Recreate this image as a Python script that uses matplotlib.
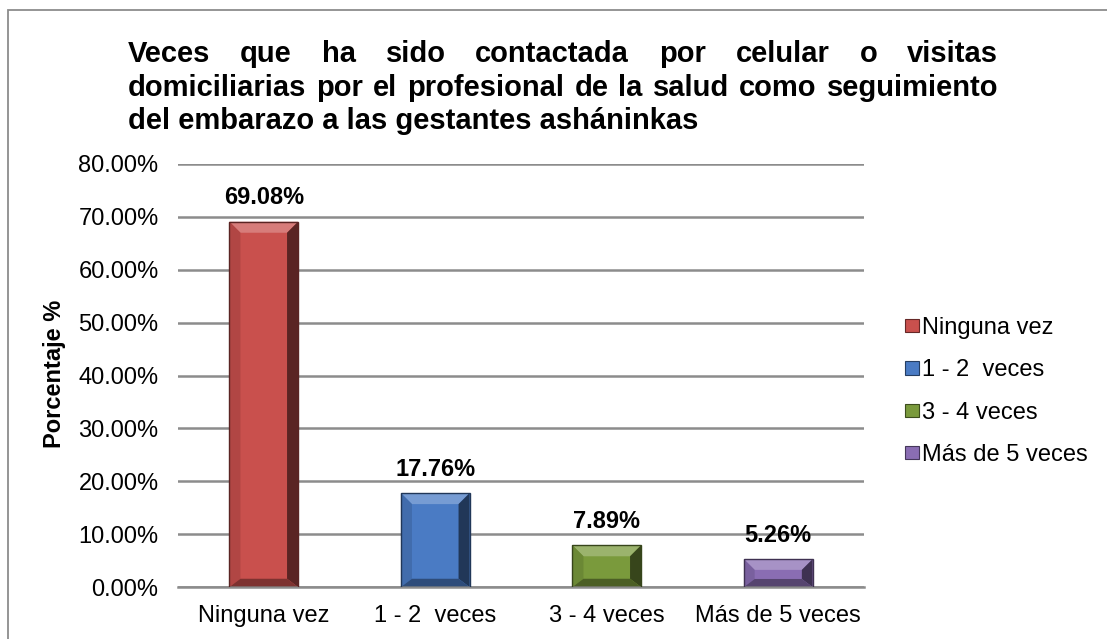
import matplotlib
matplotlib.use("Agg")
import matplotlib.pyplot as plt
from matplotlib.patches import Polygon, Rectangle
import matplotlib.colors as mcolors
import numpy as np

plt.rcParams['font.family'] = ['Liberation Sans', 'DejaVu Sans']

categories = ["Ninguna vez", "1 - 2  veces", "3 - 4 veces", "Más de 5 veces"]
values = [69.08, 17.76, 7.89, 5.26]
colors = ["#C9504D", "#4A7BC4", "#7A9A3C", "#8A6DB3"]
yticks = [0, 10, 20, 30, 40, 50, 60, 70, 80]
title_lines = [
    "Veces que ha sido contactada por celular o visitas",
    "domiciliarias por el profesional de la salud como seguimiento",
    "del embarazo a las gestantes asháninkas",
]
ylabel = "Porcentaje %"

W, H = 1107, 639
fig = plt.figure(figsize=(W / 100, H / 100), dpi=100)
fig.patch.set_facecolor("white")

# outer chart frame (top and left edges visible)
fig.add_artist(Rectangle((8 / W, -0.1), 1.2, 1 - 10 / H + 0.1, transform=fig.transFigure,
                         fill=False, edgecolor="#8C8C8C", linewidth=1.3))

ax = fig.add_axes([178 / W, 1 - 587 / H, 686 / W, 423 / H])
x = np.arange(len(categories))
bars = ax.bar(x, values, width=0.40, color=colors, zorder=3, linewidth=0)
ax.set_xlim(-0.5, len(categories) - 0.5)
ax.set_ylim(0, 80)
ax.set_yticks(yticks)
ax.set_yticklabels([f"{t:.2f}%" for t in yticks], fontsize=17)
ax.set_xticks(x)
ax.set_xticklabels(categories, fontsize=17)
ax.tick_params(axis="both", length=0)
ax.tick_params(axis="y", pad=14)
ax.tick_params(axis="x", pad=13)
for s in ["left", "right", "top"]:
    ax.spines[s].set_visible(False)
ax.spines["bottom"].set_color("#8C8C8C")
ax.spines["bottom"].set_linewidth(1.8)
ax.spines["bottom"].set_zorder(4)
ax.yaxis.grid(True, color="#8C8C8C", linewidth=1.8, zorder=0)
ax.set_axisbelow(True)


def blend(c, other, t):
    a = np.array(mcolors.to_rgb(c))
    b = np.array(mcolors.to_rgb(other))
    return tuple(a * (1 - t) + b * t)


# bevel effect on each bar
inv = ax.transData.inverted()
for rect, c in zip(bars.patches, colors):
    x0, y0 = rect.get_x(), rect.get_y()
    x1, y1 = x0 + rect.get_width(), y0 + rect.get_height()
    (px0, py0) = ax.transData.transform((x0, y0))
    (px1, py1) = ax.transData.transform((x1, y1))
    b = min(11, (py1 - py0) / 2.6)
    outer = [(px0, py0), (px1, py0), (px1, py1), (px0, py1)]
    inner = [(px0 + b, py0 + b * 0.75), (px1 - b, py0 + b * 0.75), (px1 - b, py1 - b), (px0 + b, py1 - b)]
    faces = {
        "top": ([outer[3], outer[2], inner[2], inner[3]], blend(c, "white", 0.25)),
        "left": ([outer[0], outer[3], inner[3], inner[0]], blend(c, "black", 0.12)),
        "right": ([outer[1], outer[2], inner[2], inner[1]], blend(c, "black", 0.55)),
        "bottom": ([outer[0], outer[1], inner[1], inner[0]], blend(c, "black", 0.38)),
    }
    for name, (pts, fc) in faces.items():
        dpts = inv.transform(pts)
        ax.add_patch(Polygon(dpts, closed=True, facecolor=fc, edgecolor="none", zorder=4))
    # dark outline
    ax.add_patch(Rectangle((x0, y0), x1 - x0, y1 - y0, fill=False,
                           edgecolor=blend(c, "black", 0.55), linewidth=1.0, zorder=5))

for xi, v in zip(x, values):
    ax.annotate(f"{v:.2f}%", (xi, v), xytext=(0, 9), textcoords="offset points",
                ha="center", va="bottom", fontsize=17, fontweight="bold", zorder=6)

fig.text(54 / W, 1 - 374 / H, ylabel, rotation=90, ha="center", va="center",
         fontsize=17, fontweight="bold")

# legend
handles = [Rectangle((0, 0), 1, 1, facecolor=c, edgecolor=blend(c, "black", 0.5), linewidth=0.8)
           for c in colors]
leg = fig.legend(handles, categories, loc="center left", bbox_to_anchor=(905 / W, 1 - 391.5 / H),
                 frameon=False, fontsize=17, handlelength=0.6, handleheight=0.5,
                 handletextpad=0.12, labelspacing=0.86, borderpad=0, borderaxespad=0)

# justified title
fig.canvas.draw()
renderer = fig.canvas.get_renderer()
left_px, right_px = 128, 998
baselines = [62, 96, 129]
tfont = dict(fontsize=21, fontweight="bold")
for i, line in enumerate(title_lines):
    yb = 1 - baselines[i] / H
    if i == len(title_lines) - 1:
        fig.text(left_px / W, yb, line, ha="left", va="baseline", **tfont)
        continue
    words = line.split(" ")
    tmp = [fig.text(0, 0, w, **tfont) for w in words]
    widths = [t.get_window_extent(renderer).width for t in tmp]
    for t in tmp:
        t.remove()
    gap = (right_px - left_px - sum(widths)) / (len(words) - 1)
    xp = left_px
    for w, wd in zip(words, widths):
        fig.text(xp / W, yb, w, ha="left", va="baseline", **tfont)
        xp += wd + gap

fig.savefig("out.png", dpi=100, facecolor="white")
